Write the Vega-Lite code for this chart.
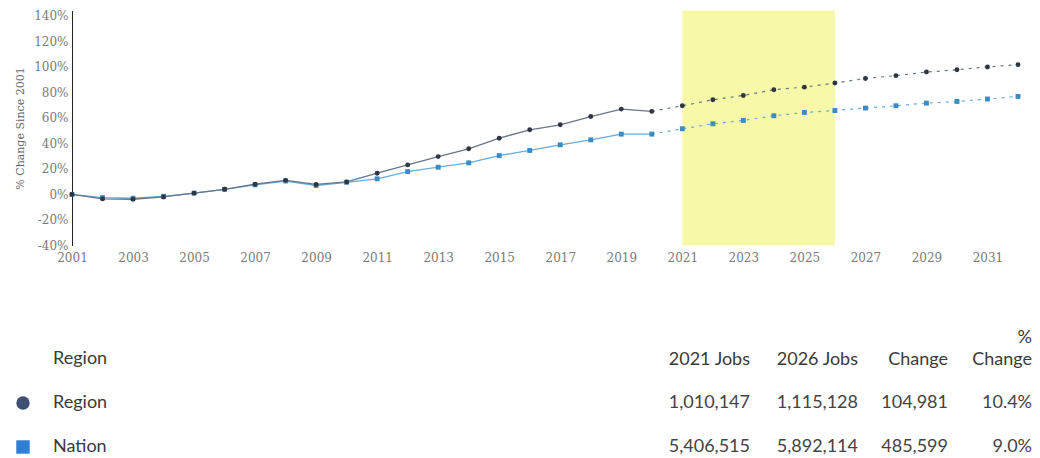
{
  "$schema": "https://vega.github.io/schema/vega-lite/v6.json",
  "autosize": {"type": "none"},
  "padding": {"left": 72, "top": 10.5, "right": 22, "bottom": 212.5},
  "width": 946,
  "height": 235,
  "background": "white",
  "config": {"view": {"stroke": null}},
  "datasets": {
    "table": [
      {"row": "header", "col": "2021 Jobs", "part": "main", "text": "2021 Jobs"},
      {"row": "header", "col": "2026 Jobs", "part": "main", "text": "2026 Jobs"},
      {"row": "header", "col": "Change", "part": "main", "text": "Change"},
      {"row": "header", "col": "% Change", "part": "top", "text": "%"},
      {"row": "header", "col": "% Change", "part": "main", "text": "Change"},
      {"row": "Region", "col": "2021 Jobs", "part": "main", "text": "1,010,147"},
      {"row": "Region", "col": "2026 Jobs", "part": "main", "text": "1,115,128"},
      {"row": "Region", "col": "Change", "part": "main", "text": "104,981"},
      {"row": "Region", "col": "% Change", "part": "main", "text": "10.4%"},
      {"row": "Nation", "col": "2021 Jobs", "part": "main", "text": "5,406,515"},
      {"row": "Nation", "col": "2026 Jobs", "part": "main", "text": "5,892,114"},
      {"row": "Nation", "col": "Change", "part": "main", "text": "485,599"},
      {"row": "Nation", "col": "% Change", "part": "main", "text": "9.0%"}
    ]
  },
  "layer": [
    {
      "data": {"values": [
        {"series":"Nation","year":2001,"pct":0},{"series":"Nation","year":2002,"pct":-2.5},{"series":"Nation","year":2003,"pct":-3},{"series":"Nation","year":2004,"pct":-1.5},{"series":"Nation","year":2005,"pct":1},{"series":"Nation","year":2006,"pct":4},{"series":"Nation","year":2007,"pct":7.5},{"series":"Nation","year":2008,"pct":10.5},{"series":"Nation","year":2009,"pct":7},{"series":"Nation","year":2010,"pct":9.5},{"series":"Nation","year":2011,"pct":12.2},{"series":"Nation","year":2012,"pct":17.9},{"series":"Nation","year":2013,"pct":21.3},{"series":"Nation","year":2014,"pct":24.7},{"series":"Nation","year":2015,"pct":30.4},{"series":"Nation","year":2016,"pct":34.4},{"series":"Nation","year":2017,"pct":38.8},{"series":"Nation","year":2018,"pct":42.7},{"series":"Nation","year":2019,"pct":47.2},{"series":"Nation","year":2020,"pct":47.2},{"series":"Nation","year":2021,"pct":51.4},{"series":"Nation","year":2022,"pct":55.3},{"series":"Nation","year":2023,"pct":57.9},{"series":"Nation","year":2024,"pct":61.6},{"series":"Nation","year":2025,"pct":64.2},{"series":"Nation","year":2026,"pct":65.7},{"series":"Nation","year":2027,"pct":67.6},{"series":"Nation","year":2028,"pct":69.4},{"series":"Nation","year":2029,"pct":71.5},{"series":"Nation","year":2030,"pct":72.8},{"series":"Nation","year":2031,"pct":74.7},{"series":"Nation","year":2032,"pct":76.7},
        {"series":"Region","year":2001,"pct":0},{"series":"Region","year":2002,"pct":-3.5},{"series":"Region","year":2003,"pct":-3.8},{"series":"Region","year":2004,"pct":-2},{"series":"Region","year":2005,"pct":1},{"series":"Region","year":2006,"pct":4},{"series":"Region","year":2007,"pct":8},{"series":"Region","year":2008,"pct":11},{"series":"Region","year":2009,"pct":7.8},{"series":"Region","year":2010,"pct":9.8},{"series":"Region","year":2011,"pct":16.6},{"series":"Region","year":2012,"pct":23.1},{"series":"Region","year":2013,"pct":29.6},{"series":"Region","year":2014,"pct":35.7},{"series":"Region","year":2015,"pct":44},{"series":"Region","year":2016,"pct":50.6},{"series":"Region","year":2017,"pct":54.5},{"series":"Region","year":2018,"pct":61},{"series":"Region","year":2019,"pct":66.8},{"series":"Region","year":2020,"pct":65},{"series":"Region","year":2021,"pct":69.4},{"series":"Region","year":2022,"pct":74.1},{"series":"Region","year":2023,"pct":77.5},{"series":"Region","year":2024,"pct":82},{"series":"Region","year":2025,"pct":84},{"series":"Region","year":2026,"pct":87.2},{"series":"Region","year":2027,"pct":90.8},{"series":"Region","year":2028,"pct":93},{"series":"Region","year":2029,"pct":95.8},{"series":"Region","year":2030,"pct":97.6},{"series":"Region","year":2031,"pct":99.8},{"series":"Region","year":2032,"pct":101.6}
      ]},
      "encoding": {
        "x": {"field": "year", "type": "quantitative",
              "scale": {"domain": [2001, 2032], "nice": false, "zero": false},
              "axis": {"title": null, "values": [2001,2003,2005,2007,2009,2011,2013,2015,2017,2019,2021,2023,2025,2027,2029,2031],
                       "format": "d", "domain": false, "ticks": false, "tickSize": 0, "grid": false, "labelFlush": false,
                       "labelFont": "DejaVu Serif", "labelFontSize": 12, "labelColor": "#7a7a7a", "labelPadding": 7}},
        "y": {"field": "pct", "type": "quantitative",
              "scale": {"domain": [-40, 144], "nice": false, "zero": false},
              "axis": {"title": "% Change Since 2001", "values": [-40,-20,0,20,40,60,80,100,120,140],
                       "labelExpr": "datum.value + '%'", "grid": false, "ticks": false, "tickSize": 0,
                       "domainColor": "#222222", "domainWidth": 1, "labelFlush": false,
                       "labelFont": "DejaVu Serif", "labelFontSize": 12, "labelColor": "#7a7a7a", "labelPadding": 4,
                       "titleFont": "DejaVu Serif", "titleFontSize": 11, "titleFontWeight": "normal", "titleColor": "#666666", "titlePadding": 8}}
      },
      "layer": [
        {
          "data": {"values": [{"from": 2021, "to": 2026}]},
          "mark": {"type": "rect", "color": "#f7f9a8"},
          "encoding": {"x": {"field": "from", "type": "quantitative"}, "x2": {"field": "to"}, "y": null}
        },
        {
          "transform": [{"filter": "datum.year <= 2020"}],
          "mark": {"type": "line", "strokeWidth": 1.3},
          "encoding": {"stroke": {"field": "series", "type": "nominal", "scale": {"domain": ["Region","Nation"], "range": ["#67758b","#66ade0"]}, "legend": null}}
        },
        {
          "transform": [{"filter": "datum.year >= 2020"}],
          "mark": {"type": "line", "strokeWidth": 1.2, "strokeDash": [3, 5]},
          "encoding": {"stroke": {"field": "series", "type": "nominal", "legend": null}}
        },
        {
          "mark": {"type": "point", "filled": true, "size": 24, "opacity": 1},
          "encoding": {
            "fill": {"field": "series", "type": "nominal", "scale": {"domain": ["Region","Nation"], "range": ["#2f3541","#3a8cc4"]}, "legend": null},
            "shape": {"field": "series", "type": "nominal", "scale": {"domain": ["Region","Nation"], "range": ["circle","square"]}, "legend": null}
          }
        }
      ]
    },
    {
      "data": {"values": [
        {"row": "header", "name": "Region"},
        {"row": "Region", "name": "Region"},
        {"row": "Nation", "name": "Nation"}
      ]},
      "encoding": {
        "y": {"field": "row", "type": "nominal", "scale": {"domain": ["header","Region","Nation"], "range": [348.5, 436.5], "padding": 0}, "axis": null}
      },
      "layer": [
        {
          "transform": [{"filter": "datum.row !== 'header'"}],
          "mark": {"type": "point", "filled": true, "size": 180, "opacity": 1},
          "encoding": {
            "x": {"datum": "symbol", "type": "nominal", "scale": {"domain": ["symbol","name"], "range": [-49, -19], "padding": 0}, "axis": null},
            "fill": {"field": "name", "type": "nominal", "scale": {"domain": ["Region","Nation"], "range": ["#3f4f73","#2f7fd6"]}, "legend": null},
            "shape": {"field": "name", "type": "nominal", "scale": {"domain": ["Region","Nation"], "range": ["circle","square"]}, "legend": null}
          }
        },
        {
          "mark": {"type": "text", "align": "left", "baseline": "middle", "font": "Lato", "fontSize": 18, "color": "#3a3a3a"},
          "encoding": {
            "x": {"datum": "name", "type": "nominal"},
            "text": {"field": "name"}
          }
        }
      ]
    },
    {
      "data": {"name": "table"},
      "transform": [{"filter": "datum.col === '2021 Jobs' || datum.col === '2026 Jobs'"}],
      "encoding": {
        "x": {"field": "col", "type": "nominal", "scale": {"domain": ["2021 Jobs","2026 Jobs"], "range": [678, 786], "padding": 0}, "axis": null},
        "y": {"field": "row", "type": "nominal", "scale": {"domain": ["header","Region","Nation"], "range": [348.5, 436.5], "padding": 0}, "axis": null},
        "text": {"field": "text"}
      },
      "layer": [
        {
          "transform": [{"filter": "datum.row === 'header'"}],
          "mark": {"type": "text", "align": "right", "baseline": "bottom", "dy": 10, "font": "Lato", "fontSize": 18, "color": "#3a3a3a"}
        },
        {
          "transform": [{"filter": "datum.row !== 'header'"}],
          "mark": {"type": "text", "align": "right", "baseline": "middle", "font": "Lato", "fontSize": 18, "color": "#444444"}
        }
      ]
    },
    {
      "data": {"name": "table"},
      "transform": [{"filter": "datum.col === 'Change' || datum.col === '% Change'"}],
      "encoding": {
        "x": {"field": "col", "type": "nominal", "scale": {"domain": ["Change","% Change"], "range": [876, 960], "padding": 0}, "axis": null},
        "y": {"field": "row", "type": "nominal", "scale": {"domain": ["header","Region","Nation"], "range": [348.5, 436.5], "padding": 0}, "axis": null},
        "text": {"field": "text"}
      },
      "layer": [
        {
          "transform": [{"filter": "datum.row === 'header' && datum.part === 'main'"}],
          "mark": {"type": "text", "align": "right", "baseline": "bottom", "dy": 10, "font": "Lato", "fontSize": 18, "color": "#3a3a3a"}
        },
        {
          "transform": [{"filter": "datum.part === 'top'"}],
          "mark": {"type": "text", "align": "right", "baseline": "bottom", "dy": -12, "font": "Lato", "fontSize": 18, "color": "#3a3a3a"}
        },
        {
          "transform": [{"filter": "datum.row !== 'header'"}],
          "mark": {"type": "text", "align": "right", "baseline": "middle", "font": "Lato", "fontSize": 18, "color": "#444444"}
        }
      ]
    }
  ],
  "resolve": {"scale": {"x": "independent", "y": "independent", "fill": "independent", "shape": "independent"}}
}
